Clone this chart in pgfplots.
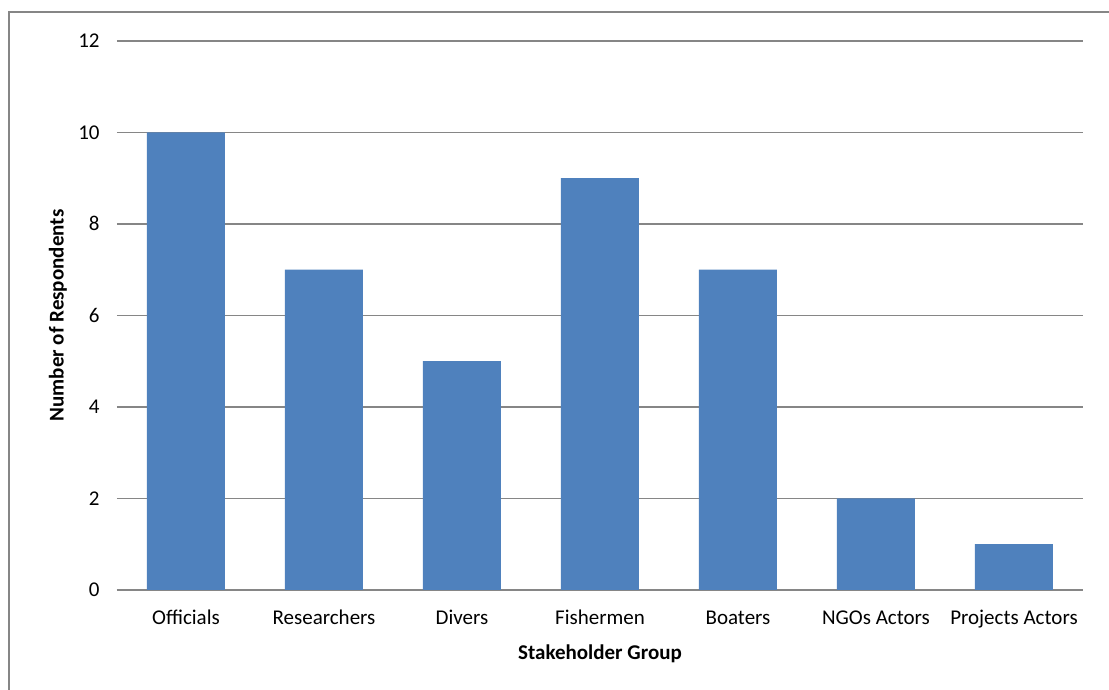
\documentclass[border=0pt]{standalone}
\usepackage{fontspec}
\setmainfont{Carlito}
\usepackage{pgfplots}
\pgfplotsset{compat=1.18}
\definecolor{barblue}{HTML}{4F81BD}
\definecolor{gridgray}{HTML}{868686}
\newcommand{\chartfont}{\fontsize{10.5}{12.6}\selectfont}
\begin{document}
\begin{tikzpicture}
\useasboundingbox (-58.5pt,-50pt) rectangle (496pt,295pt);
\draw[color=gridgray, line width=0.7pt] (-54pt,-55pt) -- (-54pt,289pt) -- (500pt,289pt);
\begin{axis}[
  at={(0pt,0pt)}, anchor=south west,
  scale only axis,
  width=483pt, height=274.5pt,
  ybar, bar width=39pt,
  xmin=-0.5, xmax=6.5,
  ymin=0, ymax=12,
  ytick={0,2,4,6,8,10,12},
  xtick=data,
  xticklabels={Officials,Researchers,Divers,Fishermen,Boaters,NGOs Actors,Projects Actors},
  axis x line*=bottom, axis y line*=left,
  y axis line style={draw=none},
  x axis line style={color=gridgray, line width=0.7pt, -},
  major tick length=0pt,
  ymajorgrids,
  grid style={color=gridgray, line width=0.7pt},
  /pgf/number format/assume math mode=true,
  xticklabel style={font=\chartfont, anchor=base, yshift=-17.5pt},
  yticklabel style={font=\chartfont, anchor=base east, inner sep=0pt, xshift=-8.5pt, yshift=-3.4pt},
  xlabel={\textbf{Stakeholder Group}},
  ylabel={\textbf{Number of Respondents}},
  xlabel style={font=\chartfont, at={(axis description cs:0.5,0)}, anchor=base, yshift=-35pt},
  ylabel style={font=\chartfont, at={(axis description cs:0,0.5)}, anchor=center, yshift=29.5pt},
]
\addplot[fill=barblue, draw=none] coordinates {(0,10) (1,7) (2,5) (3,9) (4,7) (5,2) (6,1)};
\end{axis}
\end{tikzpicture}
\end{document}
